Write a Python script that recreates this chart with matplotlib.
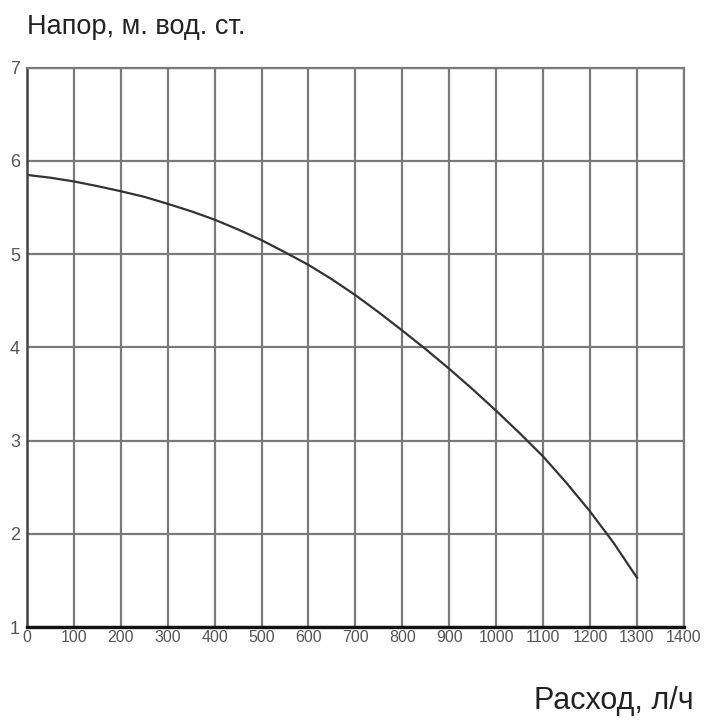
import numpy as np
import matplotlib.pyplot as plt

plt.rcParams['font.family'] = ['Liberation Sans', 'DejaVu Sans']

# расход, л/ч и напор, м
flow = [0, 50, 100, 150, 200, 250, 300, 350, 400, 450, 500, 550, 600, 650,
        700, 750, 800, 850, 900, 950, 1000, 1050, 1100, 1150, 1200, 1250, 1300]
head = [5.85, 5.82, 5.78, 5.73, 5.675, 5.615, 5.54, 5.46, 5.37, 5.265, 5.15, 5.02, 4.885, 4.73,
        4.56, 4.375, 4.18, 3.98, 3.77, 3.55, 3.32, 3.08, 2.83, 2.545, 2.24, 1.905, 1.53]

x_ticks = list(range(0, 1401, 100))
y_ticks = [1, 2, 3, 4, 5, 6, 7]

fig = plt.figure(figsize=(7.08, 7.2), dpi=100)
ax = fig.add_axes([0.038, 0.129, 0.928, 0.777])

ax.plot(flow, head, color='#333333', lw=1.6)

ax.set_xlim(0, 1400)
ax.set_ylim(1, 7)
ax.set_xticks(x_ticks)
ax.set_yticks(y_ticks)
ax.grid(True, color='#7a7a7a', lw=1.6)
ax.set_axisbelow(True)
ax.tick_params(length=0, colors='#555555')
ax.tick_params(axis='x', pad=2)
ax.tick_params(axis='y', pad=5, labelsize=13)
for lbl in ax.get_xticklabels():
    lbl.set_family(['Liberation Sans Narrow', 'Liberation Sans'])
    lbl.set_fontsize(11.5)

for s in ['top', 'right']:
    ax.spines[s].set_color('#7a7a7a')
    ax.spines[s].set_linewidth(1.6)
ax.spines['left'].set_color('#444444')
ax.spines['left'].set_linewidth(1.8)
ax.spines['bottom'].set_color('#111111')
ax.spines['bottom'].set_linewidth(2.4)

fig.text(0.038, 0.962, 'Напор, м. вод. ст.', fontsize=19.5, color='#222222', ha='left', va='center')
fig.text(0.979, 0.026, 'Расход, л/ч', fontsize=22, color='#222222', ha='right', va='center')

fig.savefig('out.png', dpi=100)
